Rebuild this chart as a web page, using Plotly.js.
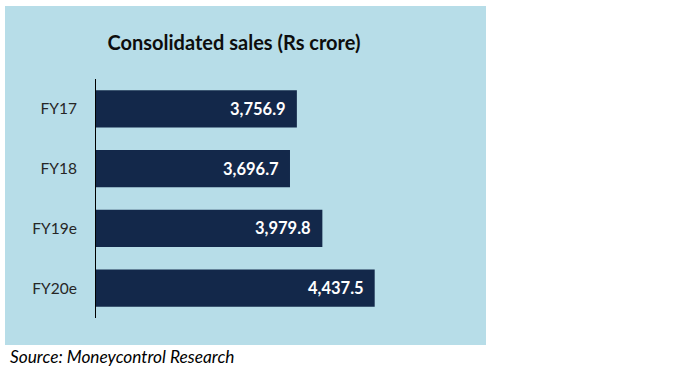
<!DOCTYPE html>
<html>
<head>
<meta charset="utf-8">
<script src="https://cdn.plot.ly/plotly-3.0.1.min.js"></script>
<style>html,body{margin:0;padding:0;background:#fff;}#chart{width:700px;height:368px;}</style>
</head>
<body>
<div id="chart"></div>
<script>
const categories = ["FY17", "FY18", "FY19e", "FY20e"];
const sales = [3756.9, 3696.7, 3979.8, 4437.5];
const valueLabels = ["3,756.9", "3,696.7", "3,979.8", "4,437.5"];
const chartTitle = "Consolidated sales (Rs crore)";
const sourceText = "Source: Moneycontrol Research";

const W = 700, H = 368;
const L = 96, R = 261, T = 79, B = 50;
const pw = W - L - R, ph = H - T - B;
const px2x = p => (p - L) / pw;
const py2y = p => (H - B - p) / ph;

const trace = {
  type: "bar",
  orientation: "h",
  x: sales,
  y: categories,
  marker: {color: "#13284A"},
  width: 0.62,
  hoverinfo: "none"
};

const labelAnns = categories.map((c, i) => ({
  x: sales[i], y: c, xref: "x", yref: "y",
  text: "<b>" + valueLabels[i] + "</b>",
  showarrow: false, xanchor: "right", yanchor: "middle", xshift: -9,
  font: {family: "Lato, sans-serif", size: 16.5, color: "#ffffff"}
}));

const layout = {
  width: W, height: H,
  margin: {l: L, r: R, t: T, b: B, pad: 0},
  paper_bgcolor: "#ffffff",
  plot_bgcolor: "rgba(0,0,0,0)",
  showlegend: false,
  title: {
    text: "<b>" + chartTitle + "</b>",
    x: 234 / W, xanchor: "center", xref: "container",
    y: 1 - 43 / H, yanchor: "middle", yref: "container",
    font: {family: "Lato, sans-serif", size: 20, color: "#0d0d0d"}
  },
  xaxis: {range: [2000, 5000], visible: false, fixedrange: true},
  yaxis: {
    type: "category", categoryarray: categories, categoryorder: "array",
    autorange: "reversed",
    showline: true, linecolor: "#000000", linewidth: 1,
    ticks: "", showgrid: false, zeroline: false,
    ticklabelstandoff: 15,
    tickfont: {family: "Lato, sans-serif", size: 15.5, color: "#262626"}
  },
  shapes: [{
    type: "rect", xref: "paper", yref: "paper",
    x0: px2x(5), x1: px2x(486), y0: py2y(345), y1: py2y(6),
    fillcolor: "#B7DDE8", line: {width: 0}, layer: "below"
  }],
  annotations: labelAnns.concat([{
    xref: "paper", yref: "paper",
    x: px2x(8), y: py2y(356), xanchor: "left", yanchor: "middle",
    text: "<i>" + sourceText + "</i>", showarrow: false,
    font: {family: "Lato, sans-serif", size: 17.3, color: "#000000"}
  }])
};

Plotly.newPlot("chart", [trace], layout, {displayModeBar: false, staticPlot: true});
</script>
</body>
</html>
